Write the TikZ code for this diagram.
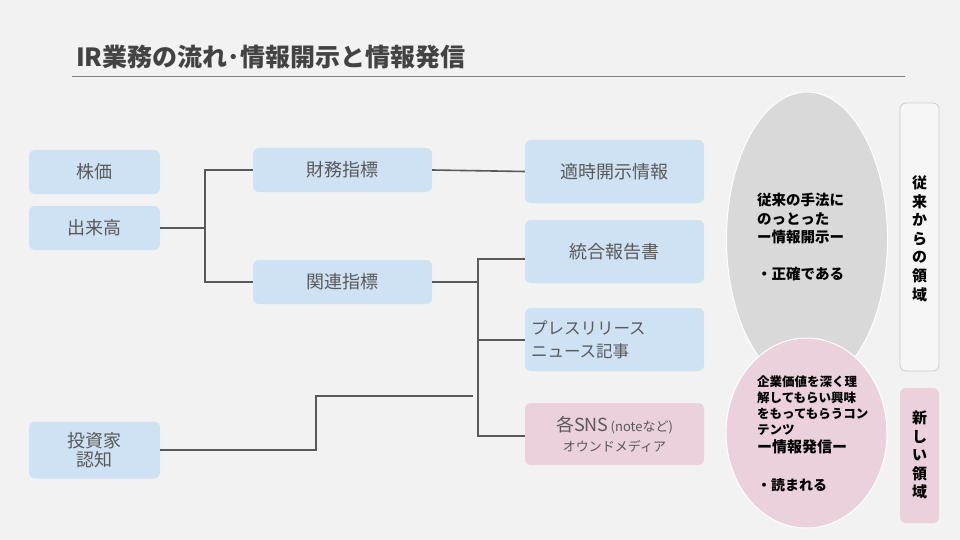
\documentclass[tikz,border=0pt]{standalone}
\usepackage{fontspec}
\setmainfont{Noto Sans CJK JP}
\usetikzlibrary{shapes.geometric}
\definecolor{bg}{HTML}{F2F2F2}
\definecolor{boxblue}{HTML}{CFE2F3}
\definecolor{boxpink}{HTML}{EAD1DC}
\definecolor{ovgray}{HTML}{D9D9D9}
\definecolor{txtgray}{HTML}{595959}
\definecolor{ttlgray}{HTML}{434343}
\definecolor{lngray}{HTML}{595959}
\begin{document}
\begin{tikzpicture}[x=1pt,y=-1pt,
  stepbox/.style={rectangle, rounded corners=6pt, fill=boxblue, inner sep=0pt, text=txtgray, font=\fontsize{18}{21}\selectfont, align=center},
  pinkbox/.style={stepbox, fill=boxpink},
  conn/.style={draw=lngray, line width=2pt},
  ovl/.style={ellipse, draw=white, line width=1pt, inner sep=0pt},
  ovtext/.style={anchor=north west, align=left, inner sep=0pt, text=black},
  vtext/.style={align=center, inner sep=0pt, font=\fontsize{15}{18.6}\selectfont\bfseries, text=black}
]
\fill[bg] (0,0) rectangle (960,540);
\useasboundingbox (0,0) rectangle (960,540);

% title
\node[anchor=west, inner sep=0pt, text=ttlgray, font=\fontsize{25}{30}\selectfont\bfseries] (title) at (76,57) {IR業務の流れ･情報開示と情報発信};
\draw[gray, line width=1pt] (72,77) -- (905,77);

% left boxes
\node[stepbox, minimum width=131, minimum height=44] (kabuka) at (94.5,172) {株価};
\node[stepbox, minimum width=131, minimum height=44] (deki) at (94.5,228) {出来高};
\node[stepbox, minimum width=131, minimum height=57] (toushi) at (94.5,450) {投資家\\[-2pt]認知};

% middle boxes
\node[stepbox, minimum width=179, minimum height=44] (zaimu) at (342.5,170) {財務指標};
\node[stepbox, minimum width=179, minimum height=44] (kanren) at (342.5,282) {関連指標};

% right boxes
\node[stepbox, minimum width=179, minimum height=63] (tekiji) at (614.5,171.5) {適時開示情報};
\node[stepbox, minimum width=179, minimum height=63] (tougou) at (614.5,251.5) {統合報告書};
\node[stepbox, minimum width=179, minimum height=63, text width=167, align=left, font=\fontsize{16.5}{23}\selectfont] (press) at (614.5,339.5) {プレスリリース\\ニュース記事};
\node[pinkbox, minimum width=179, minimum height=62, font=\fontsize{13}{20}\selectfont] (sns) at (614.5,434) {{\fontsize{18}{20}\selectfont 各SNS}\,(noteなど)\\オウンドメディア};

% connectors
\coordinate (j1) at (205,228);
\draw[conn] (deki.east) -- (j1);
\draw[conn] (zaimu.west) -| (j1);
\draw[conn] (kanren.west) -| (j1);
\draw[conn, line width=1.6pt] (zaimu.east) -- (tekiji.west);

\coordinate (j2) at (478,282);
\draw[conn] (kanren.east) -- (j2);
\draw[conn] ([yshift=-7.5pt]tougou.west) -| (j2);
\draw[conn] ([yshift=-0.5pt]press.west) -| (j2);
\draw[conn] ([yshift=-2pt]sns.west) -| (j2);

\coordinate (e1) at (473,396);
\draw[conn] (toushi.east) -- ++(156,0) |- (e1);

% ovals
\node[ovl, fill=ovgray, minimum width=161, minimum height=294] (ovA) at (807,239) {};
\node[ovl, fill=boxpink, minimum width=161, minimum height=190] (ovB) at (806.5,433) {};

\node[ovtext, font=\fontsize{14.5}{18.5}\selectfont\bfseries] (tA) at (757,193) {従来の手法に\\のっとった\\ー情報開示ー\\[18.5pt]・正確である};
\node[ovtext, font=\fontsize{12.5}{15.7}\selectfont\bfseries] (tB) at (757,376) {企業価値を深く理\\解してもらい興味\\をもってもらうコン\\テンツ\\[3pt]{\fontsize{15}{18}\selectfont ー情報発信ー}\\[22pt]{\fontsize{14}{18}\selectfont ・読まれる}};

% side labels
\node[rectangle, rounded corners=6pt, fill=bg!70!white, draw=black!20, line width=0.8pt, minimum width=39, minimum height=268, inner sep=0pt] (sideA) at (919.5,237) {};
\node[vtext] (sideAt) at (919.5,238.5) {従\\来\\か\\ら\\の\\領\\域};
\node[rectangle, rounded corners=6pt, fill=boxpink, minimum width=39, minimum height=135, inner sep=0pt] (sideB) at (919.5,455.5) {};
\node[vtext] (sideBt) at (919.5,455) {新\\し\\い\\領\\域};
\end{tikzpicture}
\end{document}
